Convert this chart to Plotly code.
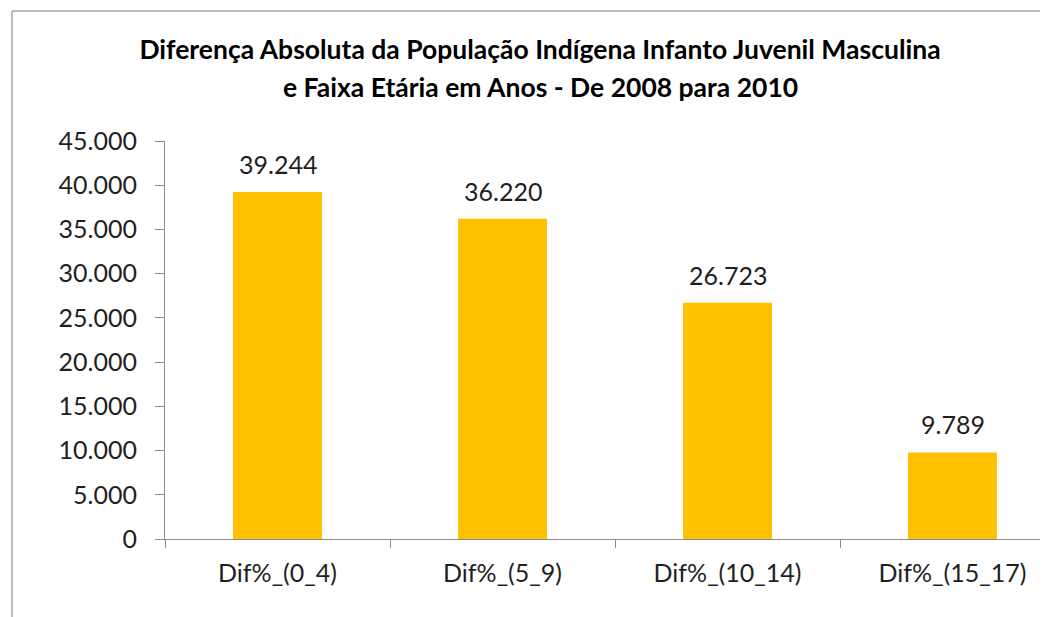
import plotly.graph_objects as go

categories = ["Dif%_(0_4)", "Dif%_(5_9)", "Dif%_(10_14)", "Dif%_(15_17)"]
values = [39244, 36220, 26723, 9789]
y_ticks = [0, 5000, 10000, 15000, 20000, 25000, 30000, 35000, 40000, 45000]
title_line1 = "Diferença Absoluta da População Indígena Infanto Juvenil Masculina"
title_line2 = "e Faixa Etária em Anos - De 2008 para 2010"

FONT = "Lato"
TXT = "#1f1f1f"
AX = "#8c8c8c"

W, H = 1048, 617
L, R, T, B = 157, 0, 133, 86
PW, PH = W - L - R, H - T - B

fig = go.Figure()
fig.add_trace(go.Bar(
    x=categories, y=values,
    marker=dict(color="#FFC000", line=dict(width=0)),
    width=0.395,
    hoverinfo="x+y",
))

for c, v in zip(categories, values):
    fig.add_annotation(
        x=c, y=v, xref="x", yref="y",
        text=f"{v:,}".replace(",", "."),
        showarrow=False, yanchor="bottom", yshift=11,
        font=dict(family=FONT, size=25, color=TXT),
    )

# second title line
fig.add_annotation(
    x=(532 - L) / PW, y=1 + (T - 79) / PH, xref="paper", yref="paper",
    xanchor="center", yanchor="middle",
    text=f"<b>{title_line2}</b>", showarrow=False,
    font=dict(family=FONT, size=26.5, color="#000"),
)

fig.update_layout(
    width=W, height=H,
    paper_bgcolor="white", plot_bgcolor="white",
    margin=dict(l=L, r=R, t=T, b=B, pad=0),
    separators=",.",
    showlegend=False,
    title=dict(text=f"<b>{title_line1}</b>", x=532 / W, xref="container", xanchor="center",
               y=1 - 42 / H, yref="container", yanchor="middle",
               font=dict(family=FONT, size=26.5, color="#000")),
    xaxis=dict(
        type="category", range=[-0.5, -0.5 + PW / 225],
        showline=True, linecolor=AX, linewidth=1,
        ticks="outside", tickson="boundaries", ticklen=8, tickcolor=AX,
        showgrid=False, zeroline=False,
        ticklabelstandoff=12,
        tickfont=dict(family=FONT, size=25, color=TXT),
    ),
    yaxis=dict(
        range=[0, 45000], tickvals=y_ticks, tickformat=",d",
        showline=True, linecolor=AX, linewidth=1,
        ticks="outside", ticklen=9, tickcolor=AX,
        showgrid=False, zeroline=False,
        ticklabelstandoff=13,
        tickfont=dict(family=FONT, size=25, color=TXT),
    ),
)

# chart area border (left and top edges visible)
bx = (4 - L) / PW
by = 1 + (T - 3) / PH
fig.add_shape(type="line", xref="paper", yref="paper",
              x0=bx, x1=bx, y0=-0.5, y1=by,
              line=dict(color="#a6a6a6", width=1.5))
fig.add_shape(type="line", xref="paper", yref="paper",
              x0=bx, x1=1.1, y0=by, y1=by,
              line=dict(color="#a6a6a6", width=1.5))

fig.write_html("out.html")
